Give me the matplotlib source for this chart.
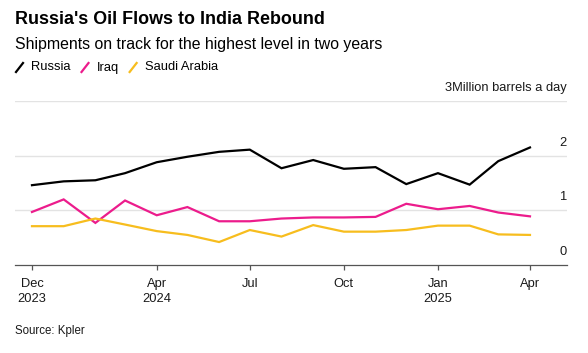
"""
    Russia's oil flows to India
"""

import numpy as np
import pandas as pd
import matplotlib
matplotlib.use('Agg')
import matplotlib.pyplot as plt
import matplotlib.dates as mdates
from matplotlib.lines import Line2D

plt.rcParams['font.family'] = ['Liberation Sans', 'DejaVu Sans']

months = pd.date_range('2023-12-01', '2025-04-01', freq='MS')
russia = [1.46, 1.53, 1.55, 1.68, 1.88, 1.98, 2.07, 2.11, 1.77, 1.92,
          1.76, 1.79, 1.48, 1.68, 1.47, 1.90, 2.15]
iraq = [0.97, 1.20, 0.77, 1.18, 0.91, 1.06, 0.80, 0.80, 0.85, 0.87,
        0.87, 0.88, 1.12, 1.02, 1.08, 0.96, 0.89]
saudi = [0.71, 0.71, 0.85, 0.74, 0.62, 0.55, 0.42, 0.64, 0.52, 0.73,
         0.61, 0.61, 0.64, 0.72, 0.72, 0.56, 0.55]

names = ['Russia', 'Iraq', 'Saudi Arabia']
colors = ['#000000', '#ec1c8c', '#f7bd1e']
yticks = [0, 1, 2, 3]
ytick_labels = ['0', '1', '2', '3Million barrels a day']
xticks = ['2023-12-01', '2024-04-01', '2024-07-01', '2024-10-01',
          '2025-01-01', '2025-04-01']
xtick_labels = ['Dec\n2023', 'Apr\n2024', 'Jul', 'Oct', 'Jan\n2025', 'Apr']

fig = plt.figure(figsize=(5.88, 3.53), dpi=100)
ax = fig.add_axes([15 / 588, 88 / 353, 552 / 588, 164 / 353])

for values, color in zip([russia, iraq, saudi], colors):
    ax.plot(months, values, color=color, linewidth=1.6, solid_joinstyle='miter')

ax.set_xlim(months[0] - pd.Timedelta(days=16.6),
            months[-1] + pd.Timedelta(days=36.2))
ax.set_ylim(0, 3)

# gridlines and right-side labels drawn inside the plot
for y in yticks[1:]:
    ax.axhline(y, color='#e3e3e3', linewidth=1, zorder=0)
for y, label in zip(yticks, ytick_labels):
    ax.annotate(label, xy=(1, y), xycoords=('axes fraction', 'data'),
                xytext=(0, 5), textcoords='offset points',
                ha='right', va='bottom', fontsize=9.3, color='#1a1a1a')

ax.set_yticks([])
ax.set_xticks(pd.to_datetime(xticks))
ax.set_xticklabels(xtick_labels, fontsize=9.3, color='#1a1a1a', linespacing=1.35)
ax.tick_params(axis='x', length=3.5, width=0.9, color='#555555', pad=6)

for side in ['top', 'left', 'right']:
    ax.spines[side].set_visible(False)
ax.spines['bottom'].set_color('#555555')
ax.spines['bottom'].set_linewidth(0.9)

fig.text(15 / 588, 1 - 20 / 353, "Russia's Oil Flows to India Rebound",
         fontsize=12.9, fontweight='bold', va='center', ha='left')
fig.text(15 / 588, 1 - 45 / 353,
         'Shipments on track for the highest level in two years',
         fontsize=11.4, va='center', ha='left')

# legend: short slanted line followed by label
x = 15
for name, color in zip(names, colors):
    fig.lines.append(Line2D([(x + 1) / 588, (x + 8) / 588],
                            [1 - 72 / 353, 1 - 63 / 353],
                            transform=fig.transFigure, color=color,
                            linewidth=1.6))
    t = fig.text((x + 16) / 588, 1 - 67.5 / 353, name, fontsize=9.3,
                 va='center', ha='left')
    fig.canvas.draw()
    bb = t.get_window_extent()
    x = bb.x1 + 10

fig.text(15 / 588, 1 - 331 / 353, 'Source: Kpler', fontsize=8.3,
         va='center', ha='left', color='#1a1a1a')

fig.savefig('out.png', dpi=100)
